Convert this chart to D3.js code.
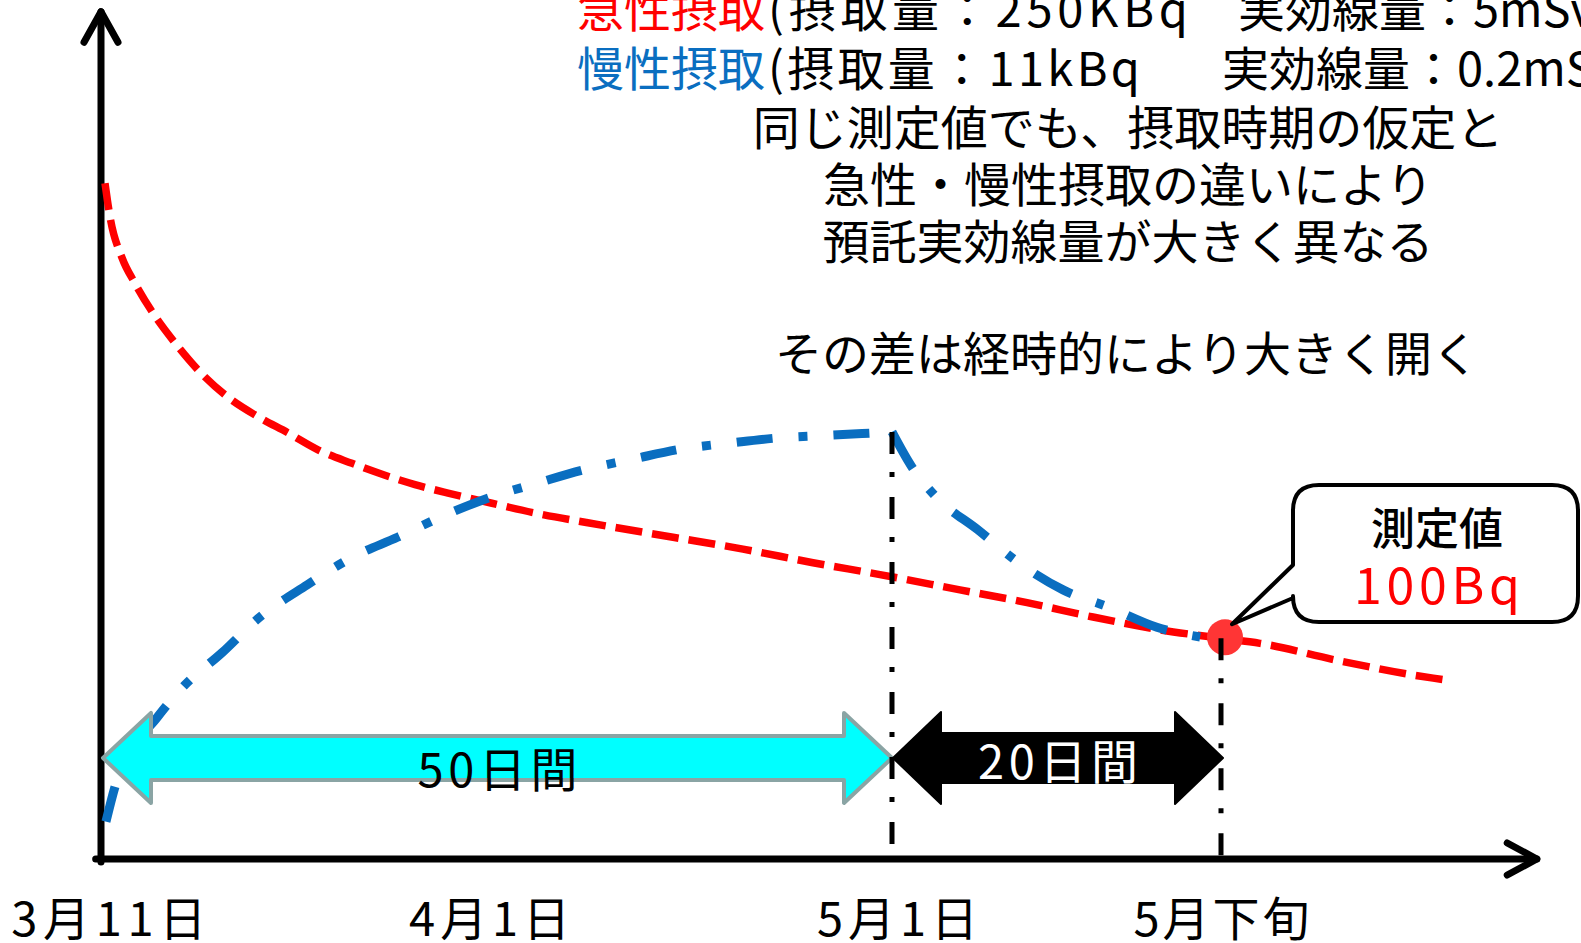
<!DOCTYPE html>
<html><head><meta charset="utf-8">
<script src="https://cdn.jsdelivr.net/npm/d3@7"></script>
<style>html,body{margin:0;padding:0;background:#fff;overflow:hidden}</style>
</head><body>
<svg id="chart" width="1581" height="943"></svg>
<script>
// ---------------- data ----------------
const tickLabels = ["3月11日", "4月1日", "5月1日", "5月下旬"];
const tickDays = [0.4, 24.5, 50.3, 70];

// acute intake (red dashed) : day since 3/11 , relative level
const acuteDays   = [0.19, 0.51, 1.27, 2.09, 3.23, 4.62, 6.08, 7.97, 9.87, 11.77, 13.67, 15.82, 17.91, 19.81, 21.9, 24.68, 27.28, 31.7, 36.14, 40.57, 45.0, 49.24, 54.13, 58.21, 62.22, 66.29, 70, 72.37, 77.05, 82.9, 84];
const acuteValues = [79.6, 75.6, 70.8, 67.8, 64.3, 60.8, 57.6, 54.4, 52.1, 50.2, 48.2, 46.6, 45.2, 44.1, 43.1, 41.9, 40.8, 39.3, 37.9, 36.5, 34.9, 33.5, 31.7, 30.2, 28.5, 27.0, 26.0, 25.4, 23.4, 21.3, 21.0];

// chronic intake (blue dash-dot): intake period, then decay
const chronicRiseDays   = [0.25, 0.95, 3.5, 5.25, 7.6, 9.8, 13.0, 15.9, 18.7, 21.7, 24.56, 27.6, 30.4, 33.6, 36.7, 39.8, 42.8, 45.9, 50];
const chronicRiseValues = [4.4, 9.3, 16.7, 20.5, 24.3, 28.2, 32.3, 35.6, 37.9, 40.5, 42.6, 44.3, 45.8, 47.1, 48.3, 49.0, 49.6, 49.9, 50.3];
const chronicFallDays   = [50, 51.2, 52.7, 55.2, 57.7, 60.4, 63.25, 66.1, 68.9, 70];
const chronicFallValues = [50.3, 46.2, 42.6, 38.8, 34.9, 31.7, 29.6, 27.3, 26.1, 25.8];

const measuredDay = 70, measuredValue = 26.0;
const measuredTitle = "測定値", measuredText = "100Bq";

const spanLabels = ["50日間", "20日間"];
const spanStart = [0, 50];
const spanEnd = [50, 70];

const acuteLabel = "急性摂取", acuteDetail1 = "(摂取量：250KBq", acuteDetail2 = "実効線量：5mSv)";
const chronicLabel = "慢性摂取", chronicDetail1 = "(摂取量：11kBq", chronicDetail2 = "実効線量：0.2mSv)";
const noteLines = ["同じ測定値でも、摂取時期の仮定と", "急性・慢性摂取の違いにより", "預託実効線量が大きく異なる"];
const noteLine2 = "その差は経時的により大きく開く";

// ---------------- drawing ----------------
const FONT = "'Noto Sans CJK JP','Noto Sans',sans-serif";
const RED = "#ff0000", BLUE = "#0a6ec0";
const svg = d3.select("#chart");

const x = d3.scaleLinear().domain([0, 50, 70, 90]).range([102, 892, 1221, 1550]);
const y = d3.scaleLinear().domain([0, 100]).range([859, 10]);

// axes lines with arrowheads
const ax = svg.append("g").attr("stroke", "#000").attr("stroke-width", 7)
  .attr("fill", "none").attr("stroke-linecap", "round").attr("stroke-linejoin", "round");
const x0 = x(0) - 1, yb = y(0);
ax.append("line").attr("x1", x0).attr("y1", yb + 3).attr("x2", x0).attr("y2", y(99.8));
ax.append("path").attr("d", `M${x0 - 17},${y(96.2)} L${x0},${y(99.8)} L${x0 + 17},${y(96.2)}`);
ax.append("line").attr("x1", x(-0.4)).attr("y1", yb).attr("x2", x(89.2)).attr("y2", yb);
ax.append("path").attr("d", `M${x(87.4)},${yb - 16} L${x(89.2)},${yb} L${x(87.4)},${yb + 16}`);

// x tick labels via d3 axis
const tickWidths = [195, 161, 161, 176];
const xAxis = d3.axisBottom(x).tickValues(tickDays)
  .tickFormat((d, i) => tickLabels[i]).tickSize(0);
const gx = svg.append("g").attr("transform", `translate(0,${yb})`).call(xAxis);
gx.select(".domain").remove();
gx.selectAll("text").attr("y", 77).attr("dy", null)
  .attr("font-size", 47).attr("font-family", FONT).attr("fill", "#000")
  .attr("textLength", (d, i) => tickWidths[i]).attr("lengthAdjust", "spacing");

// curves
const line = d3.line().x(d => x(d[0])).y(d => y(d[1])).curve(d3.curveMonotoneX);
const acute = acuteDays.map((d, i) => [d, acuteValues[i]]);
const rise = chronicRiseDays.map((d, i) => [d, chronicRiseValues[i]]);
const fall = chronicFallDays.map((d, i) => [d, chronicFallValues[i]]);

svg.append("path").attr("d", line(acute)).attr("fill", "none").attr("stroke", RED)
  .attr("stroke-width", 7.5).attr("stroke-dasharray", "27,10");
svg.append("path").attr("d", line(rise)).attr("fill", "none").attr("stroke", BLUE)
  .attr("stroke-width", 9).attr("stroke-dasharray", "36,26,9,26");
svg.append("path").attr("d", line(fall)).attr("fill", "none").attr("stroke", BLUE)
  .attr("stroke-width", 9).attr("stroke-dasharray", "42,26,8,26");

// double-headed span arrows
function dblArrow(xa, xb, cy, head, hh, sh) {
  return `M${xa},${cy} L${xa + head},${cy - hh} L${xa + head},${cy - sh} L${xb - head},${cy - sh}` +
    ` L${xb - head},${cy - hh} L${xb},${cy} L${xb - head},${cy + hh} L${xb - head},${cy + sh}` +
    ` L${xa + head},${cy + sh} L${xa + head},${cy + hh} Z`;
}
const ay = y(11.9);
const spanStyles = [
  { fill: "#00ffff", stroke: "#8aa4a4", sw: 4, sh: 22, hh: 45, text: "#000", dy: 29 },
  { fill: "#000", stroke: "#000", sw: 2, sh: 25, hh: 46, text: "#fff", dy: 21 }
];
spanLabels.forEach((lab, i) => {
  const s = spanStyles[i];
  const xa = x(spanStart[i]) + 1, xb = x(spanEnd[i]) + (i === 0 ? 0 : 2);
  svg.append("path").attr("d", dblArrow(xa, xb, ay, 48, s.hh, s.sh))
    .attr("fill", s.fill).attr("stroke", s.stroke).attr("stroke-width", s.sw)
    .attr("stroke-linejoin", "round");
  svg.append("text").attr("x", (xa + xb) / 2).attr("y", ay + s.dy)
    .attr("text-anchor", "middle").attr("font-size", 47).attr("font-family", FONT)
    .attr("textLength", 160).attr("lengthAdjust", "spacing")
    .attr("fill", s.text).text(lab);
});

// measured point
svg.append("circle").attr("cx", x(measuredDay) + 4).attr("cy", y(measuredValue) - 1)
  .attr("r", 18).attr("fill", "#ff3535");

// vertical dash-dot guides
const vStyle = g => g.attr("stroke", "#000").attr("stroke-width", 5)
  .attr("stroke-dasharray", "22,18,5,20");
svg.append("line").attr("x1", x(50)).attr("x2", x(50))
  .attr("y1", y(chronicRiseValues[chronicRiseValues.length - 1])).attr("y2", yb).call(vStyle);
svg.append("line").attr("x1", x(measuredDay)).attr("x2", x(measuredDay))
  .attr("y1", y(measuredValue)).attr("y2", yb).call(vStyle);

// callout
const tipX = x(measuredDay) + 11, tipY = y(measuredValue) - 14;
const L = 1293, T = 485, R = 1578, B = 622, r = 26;
const callout = `M${L + r},${T} H${R - r} Q${R},${T} ${R},${T + r} V${B - r} Q${R},${B} ${R - r},${B}` +
  ` H${L + r} Q${L},${B} ${L},${B - r} V598 L${tipX},${tipY} L${L},565 V${T + r} Q${L},${T} ${L + r},${T} Z`;
svg.append("path").attr("d", callout).attr("fill", "#fff").attr("stroke", "#000")
  .attr("stroke-width", 4).attr("stroke-linejoin", "round");
svg.append("text").attr("x", 1437).attr("y", 545).attr("text-anchor", "middle")
  .attr("font-size", 44).attr("font-weight", 500).attr("font-family", FONT).attr("fill", "#000").text(measuredTitle);
svg.append("text").attr("x", 1437).attr("y", 604).attr("text-anchor", "middle")
  .attr("font-size", 50).attr("font-family", FONT).attr("fill", RED)
  .attr("textLength", 166).attr("lengthAdjust", "spacing").text(measuredText);

// top annotation texts
function legendLine(yPos, label, color, d1, w1, d2, x2) {
  const t = svg.append("text").attr("y", yPos).attr("font-size", 47).attr("font-family", FONT);
  t.append("tspan").attr("x", 577).attr("fill", color).text(label);
  t.append("tspan").attr("x", 768).attr("fill", "#000")
    .attr("textLength", w1).attr("lengthAdjust", "spacing").text(d1);
  t.append("tspan").attr("x", x2).attr("fill", "#000").text(d2);
}
legendLine(27, acuteLabel, RED, acuteDetail1, 420, acuteDetail2, 1238);
legendLine(86, chronicLabel, BLUE, chronicDetail1, 372, chronicDetail2, 1222);

const noteY = [145, 202, 259];
noteLines.forEach((t, i) => {
  svg.append("text").attr("x", 1128).attr("y", noteY[i]).attr("text-anchor", "middle")
    .attr("font-size", 47).attr("font-family", FONT).attr("fill", "#000").text(t);
});
svg.append("text").attr("x", 1127).attr("y", 371).attr("text-anchor", "middle")
  .attr("font-size", 47).attr("font-family", FONT).attr("fill", "#000").text(noteLine2);
</script>
</body></html>
